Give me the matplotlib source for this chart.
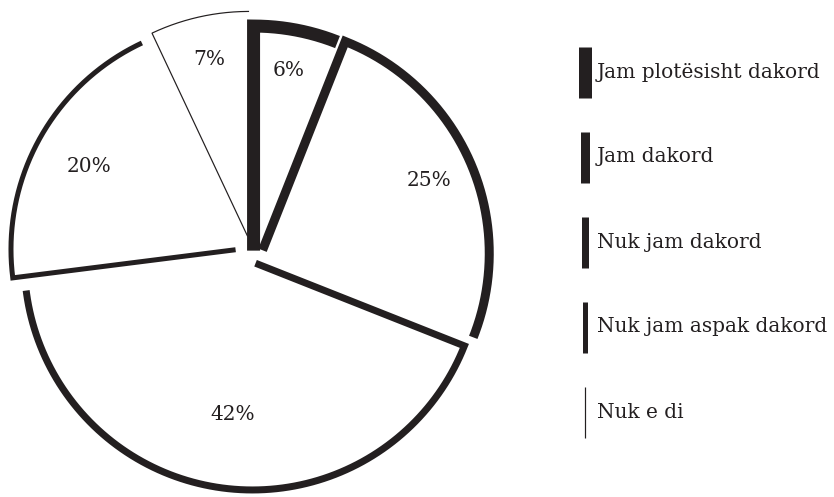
import numpy as np
import matplotlib.pyplot as plt

# Data
labels = ["Jam plotësisht dakord", "Jam dakord", "Nuk jam dakord",
          "Nuk jam aspak dakord", "Nuk e di"]
values = [6, 25, 42, 20, 7]

# Style
ink = "#231f20"
line_px = [13, 9, 7, 5, 1.2]          # stroke width of each slice, pixels
line_pt = [w * 0.72 for w in line_px]
explode = [3, 9, 5, 16, 18]           # pixels
pct_dist = [0.82, 0.80, 0.675, 0.75, 0.81]
font = "DejaVu Serif"

fig = plt.figure(figsize=(8.34, 4.97), dpi=100)
ax = fig.add_axes([0, 0, 1, 1])

R = 228
wedges, _ = ax.pie(values, startangle=90, counterclock=False,
                   explode=explode, radius=R, center=(253, 240),
                   wedgeprops=dict(facecolor="white", linewidth=0))

# each slice: a radial edge on its first side, then the outer arc (open path)
for w, lw, v, d in zip(wedges, line_pt, values, pct_dist):
    x0, y0 = w.center
    r0 = 0.015 * R
    t = np.radians(np.linspace(w.theta2, w.theta1, 200))
    xs = np.concatenate([[x0 + r0 * np.cos(t[0])], x0 + R * np.cos(t)])
    ys = np.concatenate([[y0 + r0 * np.sin(t[0])], y0 + R * np.sin(t)])
    ax.plot(xs, ys, color=ink, lw=lw, solid_joinstyle="miter",
            solid_capstyle="butt")
    mid = np.radians((w.theta1 + w.theta2) / 2)
    ax.text(x0 + d * R * np.cos(mid), y0 + d * R * np.sin(mid), f"{v}%",
            ha="center", va="center", fontsize=14.5, family=font, color=ink)

# Legend drawn by hand: vertical bars of the slice stroke widths
leg_x, leg_top, leg_step, bar_h = 585, 497 - 72, 85, 51
for i, (lab, lw) in enumerate(zip(labels, line_pt)):
    yc = leg_top - i * leg_step
    ax.plot([leg_x, leg_x], [yc - bar_h / 2, yc + bar_h / 2], color=ink,
            lw=lw, solid_capstyle="butt")
    ax.text(leg_x + 12, yc, lab, ha="left", va="center", fontsize=14.5,
            family=font, color=ink)

ax.set_xlim(0, 834)
ax.set_ylim(0, 497)
ax.set_aspect("equal")
ax.axis("off")

fig.savefig("out.png", dpi=100)
